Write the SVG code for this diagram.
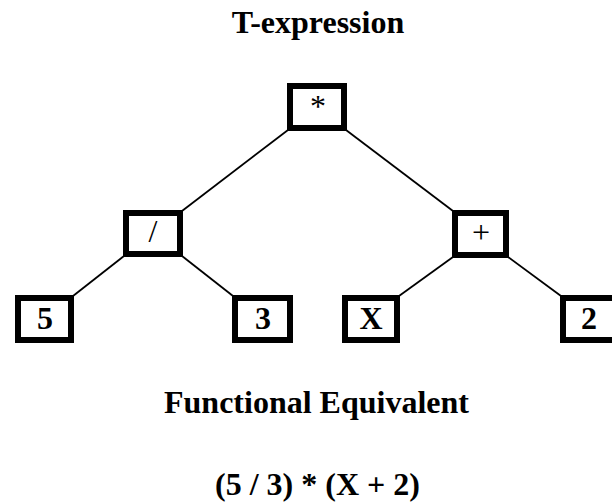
<svg xmlns="http://www.w3.org/2000/svg" width="612" height="502" viewBox="0 0 612 502">
<style>
.box{fill:#fff;stroke:#000;stroke-width:6}
.t{font-family:"Liberation Serif","Times New Roman",serif;font-weight:bold;font-size:32px;text-anchor:middle;fill:#000}
.op{font-weight:normal}
.edge{stroke:#000;stroke-width:1.8;fill:none}
</style>
<rect width="612" height="502" fill="#fff"/>
<text class="t" x="318" y="33">T-expression</text>
<g id="connectors">
<line class="edge" x1="288" y1="130" x2="182" y2="211"/>
<line class="edge" x1="346" y1="130" x2="453" y2="211"/>
<line class="edge" x1="124" y1="256" x2="73" y2="296"/>
<line class="edge" x1="182" y1="256" x2="233" y2="296"/>
<line class="edge" x1="453" y1="257" x2="399" y2="296"/>
<line class="edge" x1="508" y1="257" x2="561" y2="296"/>
</g>
<g id="node-mul"><rect class="box" x="290" y="86" width="54" height="42"/><text class="t op" x="318" y="117">*</text></g>
<g id="node-div"><rect class="box" x="126" y="213" width="54" height="41"/><text class="t op" x="153" y="242">/</text></g>
<g id="node-add"><rect class="box" x="455" y="213" width="51" height="42"/><text class="t op" x="481" y="243">+</text></g>
<g id="node-5"><rect class="box" x="18" y="298" width="53" height="42"/><text class="t" x="45" y="329">5</text></g>
<g id="node-3"><rect class="box" x="235" y="298" width="55" height="42"/><text class="t" x="263" y="329">3</text></g>
<g id="node-x"><rect class="box" x="345" y="298" width="52" height="42"/><text class="t" x="371" y="329">X</text></g>
<g id="node-2"><rect class="box" x="563" y="298" width="53" height="42"/><text class="t" x="589" y="329">2</text></g>
<text class="t" x="316.5" y="413">Functional Equivalent</text>
<text class="t" x="317.5" y="495">(5 / 3) * (X + 2)</text>
</svg>
